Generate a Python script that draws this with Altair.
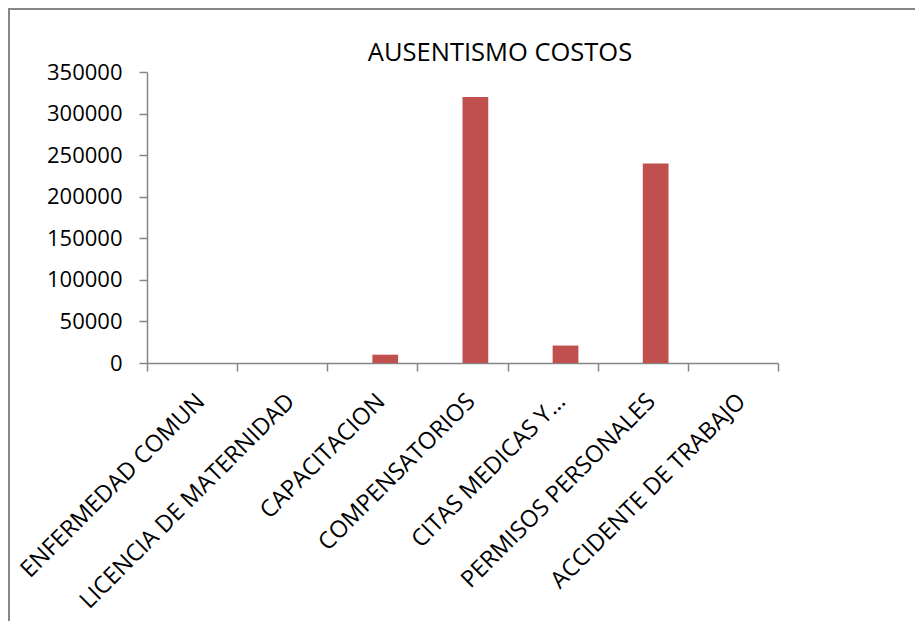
import altair as alt
import pandas as pd

categories = [
    "ENFERMEDAD COMUN",
    "LICENCIA DE MATERNIDAD",
    "CAPACITACION",
    "COMPENSATORIOS",
    "CITAS MEDICAS Y…",
    "PERMISOS PERSONALES",
    "ACCIDENTE DE TRABAJO",
]
costs = [0, 0, 10000, 320000, 21000, 240000, 0]
series_names = ["Serie 1", "Costos"]
y_ticks = [0, 50000, 100000, 150000, 200000, 250000, 300000, 350000]
chart_title = "AUSENTISMO COSTOS"
header_text = "Valor de los ausentismos"

df = pd.DataFrame({"categoria": categories, "costo": costs, "serie": series_names[1]})

FONT = "Open Sans"
GRAY = "#868686"
W, H = 631, 291

bars = alt.Chart(df).mark_bar(color="#C0504D").encode(
    x=alt.X(
        "categoria:N",
        sort=categories,
        scale=alt.Scale(paddingInner=0, paddingOuter=0),
        axis=alt.Axis(
            title=None,
            labelAngle=-45,
            labelAlign="right",
            labelBaseline="top",
            labelPadding=18,
            labelFontSize=23.5,
            labelFont=FONT,
            labelColor="#000000",
            labelOverlap=False,
            labelLimit=0,
            tickBand="extent",
            tickSize=8,
            tickColor=GRAY,
            tickWidth=1.5,
            domainColor=GRAY,
            domainWidth=1.5,
        ),
    ),
    xOffset=alt.XOffset(
        "serie:N",
        scale=alt.Scale(domain=series_names, paddingInner=0, paddingOuter=0.75),
    ),
    y=alt.Y(
        "costo:Q",
        scale=alt.Scale(domain=[0, 350000], nice=False),
        axis=alt.Axis(
            title=None,
            values=y_ticks,
            format="d",
            grid=False,
            tickSize=8,
            tickColor=GRAY,
            tickWidth=1.5,
            domainColor=GRAY,
            domainWidth=1.5,
            labelPadding=17,
            labelFontSize=22,
            labelFont=FONT,
            labelColor="#000000",
        ),
    ),
)

box = alt.Chart(alt.Data(values=[{"k": 1}])).mark_rect(
    filled=False, stroke=GRAY, strokeWidth=2
).encode(
    x=alt.value(-138), x2=alt.value(W + 200),
    y=alt.value(-63), y2=alt.value(H + 400),
)

header = alt.Chart(alt.Data(values=[{"t": header_text}])).mark_text(
    align="left", baseline="alphabetic", fontSize=24, fontWeight="bold", font=FONT, color="#000000"
).encode(text="t:N", x=alt.value(-122), y=alt.value(-69))

title = alt.Chart(alt.Data(values=[{"t": chart_title}])).mark_text(
    align="center", baseline="alphabetic", fontSize=25.5, font=FONT, color="#000000"
).encode(text="t:N", x=alt.value(353), y=alt.value(-11))

chart = alt.layer(box, header, title, bars).properties(
    width=W,
    height=H,
    autosize=alt.AutoSizeParams(type="none"),
    padding={"left": 139, "top": 64, "right": 137, "bottom": 258},
).configure_view(stroke=None)

chart.save("out.html", embed_options={"renderer": "svg", "actions": False})
